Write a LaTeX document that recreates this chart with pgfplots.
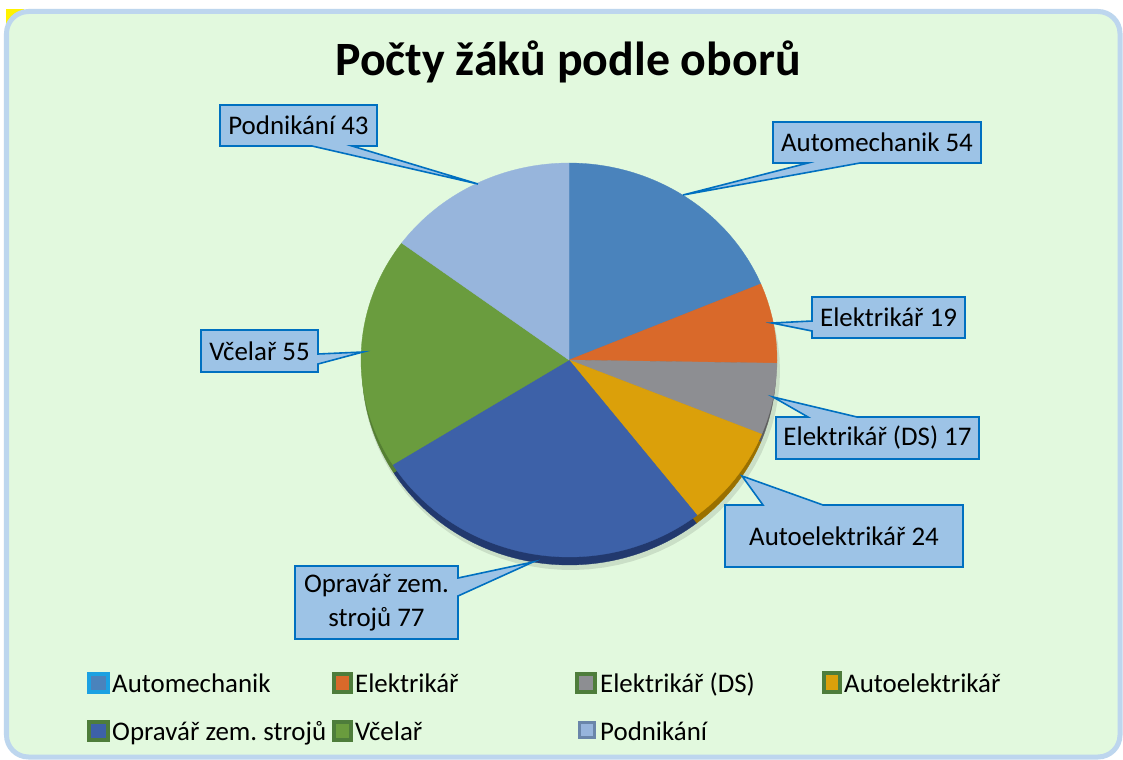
\documentclass[border=0pt]{standalone}
\usepackage{pgfplots}
\usepackage{pgfplotstable}
\pgfplotsset{compat=1.18}
\usepackage{fontspec}
\setmainfont{Carlito}
\frenchspacing

\definecolor{pc0}{HTML}{4A83BC}
\definecolor{pc1}{HTML}{D9692A}
\definecolor{pc2}{HTML}{8D8E92}
\definecolor{pc3}{HTML}{DBA00A}
\definecolor{pc4}{HTML}{3D61A8}
\definecolor{pc5}{HTML}{6A9C3E}
\definecolor{pc6}{HTML}{97B5DC}
\definecolor{rc0}{HTML}{2F5A8A}
\definecolor{rc1}{HTML}{A04E1E}
\definecolor{rc2}{HTML}{5E5E5E}
\definecolor{rc3}{HTML}{9A7000}
\definecolor{rc4}{HTML}{22396E}
\definecolor{rc5}{HTML}{557F33}
\definecolor{rc6}{HTML}{6A86AA}
\definecolor{bgc}{HTML}{E2F9DE}
\definecolor{frame}{HTML}{BDD6EE}
\definecolor{calfill}{HTML}{9DC3E6}
\definecolor{calline}{HTML}{0070C0}
\definecolor{lgreen}{HTML}{4E7D3B}
\definecolor{lcyan}{HTML}{1BA1E2}

\pgfplotstableread{
idx value
0 54
1 19
2 17
3 24
4 77
5 55
6 43
}\piedata

\begin{document}%
\begin{tikzpicture}
% total and cumulative angles
\xdef\tot{0}
\foreach \i in {0,...,6}{%
  \pgfplotstablegetelem{\i}{value}\of\piedata
  \pgfmathsetmacro\t{\tot+\pgfplotsretval}%
  \xdef\tot{\t}%
}
\pgfmathsetmacro\degper{360/\tot}
\xdef\degper{\degper}
\xdef\cum{0}
\foreach \i in {0,...,6}{%
  \pgfplotstablegetelem{\i}{value}\of\piedata
  \pgfmathsetmacro\sa{90-\cum*\degper}%
  \pgfmathsetmacro\newcum{\cum+\pgfplotsretval}%
  \pgfmathsetmacro\ea{90-\newcum*\degper}%
  \expandafter\xdef\csname sa\i\endcsname{\sa}%
  \expandafter\xdef\csname ea\i\endcsname{\ea}%
  \xdef\cum{\newcum}%
}
\begin{axis}[
  x=1bp, y=1bp,
  xmin=0, xmax=1123, ymin=0, ymax=760,
  y dir=reverse,
  hide axis, clip=false,
]
% background
\fill[white] (0,0) rectangle (1123,760);
\fill[yellow] (6,9) rectangle (24,26);
\draw[frame, line width=5bp, fill=bgc, rounded corners=22bp] (6.5,11.5) rectangle (1120,757);

% title
\node[font=\fontsize{48}{56}\selectfont\bfseries] at (568,62) {Počty žáků podle oborů};

% soft shadow
\addplot[fill=black, fill opacity=0.10, draw=none, samples=90, domain=0:360, variable=\t]
  ({571+209*cos(\t)}, {371-199*sin(\t)}) -- cycle;

% pie side (rim)
\pgfplotsinvokeforeach{0,...,6}{
  \addplot[fill=rc#1, draw=rc#1, line width=0.3bp, samples=60,
    domain=\csname ea#1\endcsname:\csname sa#1\endcsname, variable=\t]
    ({569+207*cos(\t)}, {368-197*sin(\t)}) -- (569,368) -- cycle;
}
% pie faces
\pgfplotsinvokeforeach{0,...,6}{
  \addplot[fill=pc#1, draw=pc#1, line width=0.3bp, samples=60,
    domain=\csname ea#1\endcsname:\csname sa#1\endcsname, variable=\t]
    ({569+208*cos(\t)}, {360-197*sin(\t)}) -- (569,360) -- cycle;
}

% callouts
\tikzset{callout/.style={fill=calfill, draw=calline, line width=1.6bp, line join=miter}}
\tikzset{ctext/.style={font=\fontsize{27}{34}\selectfont, align=center}}
% Podnikání
\draw[callout] (220,105) -- (377,105) -- (377,146) -- (352,146) -- (478,184) -- (312,146) -- (220,146) -- cycle;
\node[ctext] at (298.5,125.5) {Podnikání 43};
% Automechanik
\draw[callout] (773,122) -- (981,122) -- (981,163) -- (860,163) -- (683,195) -- (808,163) -- (773,163) -- cycle;
\node[ctext] at (877,142.5) {Automechanik 54};
% Elektrikář
\draw[callout] (812,297) -- (965,297) -- (965,338) -- (812,338) -- (812,331) -- (772,323) -- (812,321) -- cycle;
\node[ctext] at (888.5,317.5) {Elektrikář 19};
% Elektrikář (DS)
\draw[callout] (776,417) -- (808,417) -- (773,397) -- (857,417) -- (979,417) -- (979,459) -- (776,459) -- cycle;
\node[ctext] at (877.5,438) {Elektrikář (DS) 17};
% Autoelektrikář
\draw[callout] (725,505) -- (763,505) -- (742,476) -- (823,505) -- (963,505) -- (963,567) -- (725,567) -- cycle;
\node[ctext] at (844,536) {Autoelektrikář 24};
% Včelař
\draw[callout] (201,330) -- (318,330) -- (318,354) -- (363,352) -- (318,364) -- (318,372) -- (201,372) -- cycle;
\node[ctext] at (259.5,351) {Včelař 55};
% Opravář
\draw[callout] (295,566) -- (458,566) -- (458,578) -- (533,562) -- (458,596) -- (458,639) -- (295,639) -- cycle;
\node[ctext] at (376.5,602.5) {Opravář zem.\\strojů 77};

% legend
\tikzset{ltext/.style={font=\fontsize{27}{30}\selectfont, anchor=base west, inner sep=0pt}}
\fill[lcyan] (87,672) rectangle (110,694);   \fill[pc0] (91,676) rectangle (106,690);
\node[ltext] at (112,692) {Automechanik};
\fill[lgreen] (332,672) rectangle (353,694); \fill[pc1] (336,676) rectangle (349,690);
\node[ltext] at (355,692) {Elektrikář};
\fill[lgreen] (575,672) rectangle (597,694); \fill[pc2] (579,676) rectangle (593,690);
\node[ltext] at (600,692) {Elektrikář (DS)};
\fill[lgreen] (822,671) rectangle (842,694); \fill[pc3] (826,675) rectangle (838,690);
\node[ltext] at (844,692) {Autoelektrikář};
\fill[lgreen] (87,720) rectangle (110,742);  \fill[pc4] (91,724) rectangle (106,738);
\node[ltext] at (112,740) {Opravář zem. strojů};
\fill[lgreen] (332,720) rectangle (353,742); \fill[pc5] (336,724) rectangle (349,738);
\node[ltext] at (355,740) {Včelař};
\fill[rc6] (578,721) rectangle (596,739);    \fill[pc6] (581,724) rectangle (593,736);
\node[ltext] at (600,740) {Podnikání};
\end{axis}
\end{tikzpicture}%
\end{document}
